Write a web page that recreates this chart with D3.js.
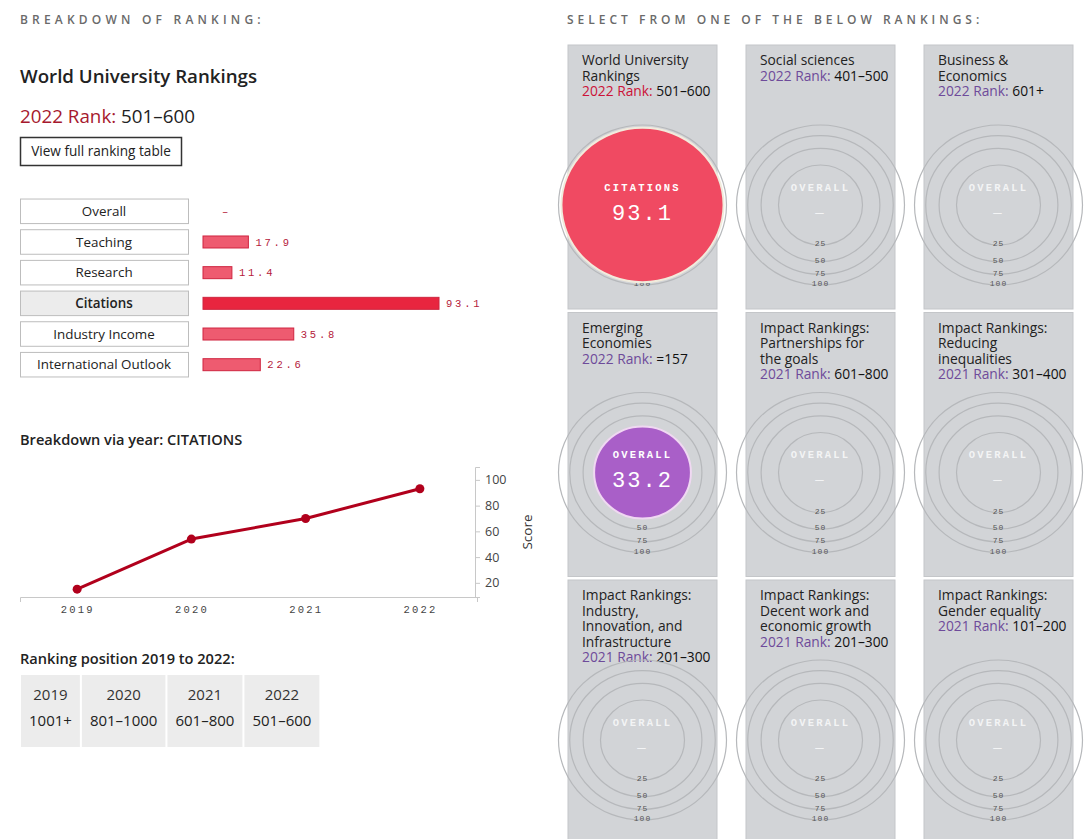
<!DOCTYPE html>
<meta charset="utf-8">
<style>
body { margin: 0; background: #fff; }
svg { display: block; font-family: "Open Sans", sans-serif; }
.mono { font-family: "Liberation Mono", "DejaVu Sans Mono", monospace; }
.axis path, .axis line { stroke: #c8c8c8; }
.axis text { fill: #444; }
</style>
<svg width="1086" height="839"></svg>
<script src="https://cdn.jsdelivr.net/npm/d3@7"></script>
<script>

// ---- data ----
var breakdownCats = ["Overall", "Teaching", "Research", "Citations", "Industry Income", "International Outlook"];
var breakdownVals = [null, 17.9, 11.4, 93.1, 35.8, 22.6];
var selectedCat = "Citations";

var years = [2019, 2020, 2021, 2022];
var citationScores = [15.1, 54.0, 70.0, 93.1];
var scoreTicks = [20, 40, 60, 80, 100];
var yearRanks = ["1001+", "801\u20131000", "601\u2013800", "501\u2013600"];

var cardTitles = [
  ["World University", "Rankings"],
  ["Social sciences"],
  ["Business &", "Economics"],
  ["Emerging", "Economies"],
  ["Impact Rankings:", "Partnerships for", "the goals"],
  ["Impact Rankings:", "Reducing", "inequalities"],
  ["Impact Rankings:", "Industry,", "Innovation, and", "Infrastructure"],
  ["Impact Rankings:", "Decent work and", "economic growth"],
  ["Impact Rankings:", "Gender equality"]
];
var cardRankYears = [2022, 2022, 2022, 2022, 2021, 2021, 2021, 2021, 2021];
var cardRanks = ["501\u2013600", "401\u2013500", "601+", "=157", "601\u2013800", "301\u2013400", "201\u2013300", "201\u2013300", "101\u2013200"];
var cardMetrics = ["CITATIONS", "OVERALL", "OVERALL", "OVERALL", "OVERALL", "OVERALL", "OVERALL", "OVERALL", "OVERALL"];
var cardScores = [93.1, null, null, 33.2, null, null, null, null, null];
var ringLevels = [25, 50, 75, 100];

var red = "#cc1238", purple = "#6e4b9a";

var svg = d3.select("svg");

// ---- left column ----
svg.append("text")
    .attr("x", 20).attr("y", 20).attr("dy", "0.35em")
    .attr("font-size", 12).attr("font-weight", 600)
    .attr("letter-spacing", 4.2).attr("fill", "#6a6a6a")
    .text("BREAKDOWN OF RANKING:");

svg.append("text")
    .attr("x", 20).attr("y", 76).attr("dy", "0.35em")
    .attr("font-size", 18.7).attr("font-weight", 600).attr("fill", "#222")
    .text("World University Rankings");

var rk = svg.append("text")
    .attr("x", 20).attr("y", 116).attr("dy", "0.35em")
    .attr("font-size", 18.8);
rk.append("tspan").attr("fill", "#a6192e").text("2022 Rank: ");
rk.append("tspan").attr("fill", "#222").attr("font-weight", 500).text("501\u2013600");

svg.append("rect")
    .attr("x", 20.5).attr("y", 137.5).attr("width", 161).attr("height", 28)
    .attr("fill", "#fff").attr("stroke", "#333").attr("stroke-width", 1.5);
svg.append("text")
    .attr("x", 101).attr("y", 151.5).attr("dy", "0.35em")
    .attr("text-anchor", "middle").attr("font-size", 13.6).attr("font-weight", 500)
    .attr("fill", "#222")
    .text("View full ranking table");

// breakdown bars
var rowY = d3.scaleBand().domain(breakdownCats).range([197, 378]).paddingInner(0.2).paddingOuter(0.05);
var barX = d3.scaleLinear().domain([0, 100]).range([203, 456.5]);

var rows = svg.append("g").selectAll("g")
  .data(breakdownCats)
  .enter().append("g");

rows.append("rect")
    .attr("x", 20.5).attr("width", 168)
    .attr("y", function(d) { return rowY(d) + 0.5; })
    .attr("height", rowY.bandwidth())
    .attr("fill", function(d) { return d === selectedCat ? "#ececec" : "#fff"; })
    .attr("stroke", "#bdbdbd");

rows.append("text")
    .attr("x", 104).attr("y", function(d) { return rowY(d) + rowY.bandwidth() / 2 + 0.5; })
    .attr("dy", "0.35em").attr("text-anchor", "middle")
    .attr("font-size", 13.4).attr("fill", "#222")
    .attr("font-weight", function(d) { return d === selectedCat ? 600 : 500; })
    .text(function(d) { return d; });

rows.append("rect")
    .filter(function(d, i) { return breakdownVals[i] != null; })
    .attr("x", barX(0))
    .attr("y", function(d) { return rowY(d) + rowY.bandwidth() / 2 - 5.5; })
    .attr("height", 12)
    .attr("width", function(d) { return barX(breakdownVals[breakdownCats.indexOf(d)]) - barX(0); })
    .attr("fill", function(d) { return d === selectedCat ? "#e8253f" : "#ee5b70"; })
    .attr("stroke", "#cf2540").attr("stroke-width", 1);

rows.append("text")
    .attr("class", "mono")
    .attr("x", function(d, i) { return breakdownVals[i] == null ? 222 : barX(breakdownVals[i]) + 7; })
    .attr("y", function(d) { return rowY(d) + rowY.bandwidth() / 2 + 0.5; })
    .attr("dy", "0.35em")
    .attr("font-size", 10.5).attr("letter-spacing", 2.8).attr("fill", "#b5203a")
    .text(function(d, i) { return breakdownVals[i] == null ? "\u2013" : breakdownVals[i].toFixed(1); });

// line chart
svg.append("text")
    .attr("x", 20).attr("y", 440).attr("dy", "0.35em")
    .attr("font-size", 14.6).attr("font-weight", 600).attr("fill", "#222")
    .text("Breakdown via year: CITATIONS");

var x = d3.scaleLinear().domain([2018.5, 2022.5]).range([20, 477]);
var y = d3.scaleLinear().domain([9, 110]).range([597, 467]);

svg.append("g")
    .attr("class", "axis mono")
    .attr("transform", "translate(0,597)")
    .call(d3.axisBottom(x).tickValues(years).tickFormat(d3.format("d"))
      .tickSizeInner(0).tickSizeOuter(5).tickPadding(9))
    .call(function(g) {
      g.selectAll("text").attr("font-size", 10.5).attr("letter-spacing", 2.2)
        .attr("font-family", "Liberation Mono, monospace").attr("fill", "#333");
    });

svg.append("g")
    .attr("class", "axis")
    .attr("transform", "translate(475,0)")
    .call(d3.axisRight(y).tickValues(scoreTicks).tickSize(5).tickPadding(5))
    .call(function(g) {
      g.selectAll("text").attr("font-size", 12.5).attr("font-family", "Open Sans, sans-serif");
    });

svg.append("text")
    .attr("transform", "translate(527,532) rotate(-90)")
    .attr("dy", "0.35em").attr("text-anchor", "middle")
    .attr("font-size", 13.5).attr("fill", "#333")
    .text("Score");

var line = d3.line()
    .x(function(d, i) { return x(years[i]); })
    .y(function(d) { return y(d); });

svg.append("path")
    .datum(citationScores)
    .attr("d", line)
    .attr("fill", "none").attr("stroke", "#b1001c").attr("stroke-width", 3)
    .attr("stroke-linejoin", "round");

svg.append("g").selectAll("circle")
  .data(citationScores)
  .enter().append("circle")
    .attr("cx", function(d, i) { return x(years[i]); })
    .attr("cy", function(d) { return y(d); })
    .attr("r", 4.5)
    .attr("fill", "#b1001c");

// ranking position table
svg.append("text")
    .attr("x", 20).attr("y", 659).attr("dy", "0.35em")
    .attr("font-size", 14.6).attr("font-weight", 600).attr("fill", "#222")
    .text("Ranking position 2019 to 2022:");

var tbl = svg.append("g");
var cx0 = 21;
years.forEach(function(yr, i) {
  var cell = tbl.append("g");
  var bg = cell.append("rect").attr("y", 675).attr("height", 72).attr("fill", "#ececec");
  var t1 = cell.append("text").attr("y", 695).attr("dy", "0.35em")
      .attr("text-anchor", "middle").attr("font-size", 15).attr("fill", "#333").text(yr);
  var t2 = cell.append("text").attr("y", 721).attr("dy", "0.35em")
      .attr("text-anchor", "middle").attr("font-size", 15).attr("fill", "#222").text(yearRanks[i]);
  var w = Math.max(t1.node().getComputedTextLength(), t2.node().getComputedTextLength()) + 16;
  bg.attr("x", cx0).attr("width", w);
  t1.attr("x", cx0 + w / 2);
  t2.attr("x", cx0 + w / 2);
  cx0 += w + 2;
});

// ---- right column: ranking cards ----
svg.append("text")
    .attr("x", 567).attr("y", 20).attr("dy", "0.35em")
    .attr("font-size", 12).attr("font-weight", 600)
    .attr("letter-spacing", 4.0).attr("fill", "#6a6a6a")
    .text("SELECT FROM ONE OF THE BELOW RANKINGS:");

var r = d3.scaleSqrt().domain([0, 100]).range([0, 80]);
var stretch = 1.05;
var cardW = 149, cardH = 264;

var cards = svg.append("g").selectAll("g")
  .data(cardTitles)
  .enter().append("g")
    .attr("transform", function(d, i) {
      return "translate(" + (568 + (i % 3) * 178) + "," + (45 + Math.floor(i / 3) * 267.5) + ")";
    });

cards.append("rect")
    .attr("width", cardW).attr("height", cardH)
    .attr("fill", "#d2d4d7").attr("stroke", "#c4c6c9");

cards.each(function(lines, i) {
  var g = d3.select(this);
  var t = g.append("text").attr("font-size", 13.8).attr("fill", "#222");
  lines.forEach(function(l, j) {
    t.append("tspan").attr("x", 14).attr("y", 15.5 + j * 15.4).attr("dy", "0.35em").text(l);
  });
  var last = t.append("tspan").attr("x", 14).attr("y", 15.5 + lines.length * 15.4).attr("dy", "0.35em");
  last.append("tspan").attr("fill", i === 0 ? red : purple).text(cardRankYears[i] + " Rank: ");
  last.append("tspan").attr("fill", "#111").attr("font-weight", 500).text(cardRanks[i]);

  var ccx = cardW / 2, ccy = 160;

  g.selectAll("ellipse.ring")
    .data(ringLevels)
    .enter().append("ellipse")
      .attr("class", "ring")
      .attr("cx", ccx).attr("cy", ccy)
      .attr("rx", function(v) { return r(v) * stretch; })
      .attr("ry", function(v) { return r(v); })
      .attr("fill", "none").attr("stroke", "#b6b8bb").attr("stroke-width", 1.2);

  g.selectAll("text.ringlab")
    .data(ringLevels)
    .enter().append("text")
      .attr("class", "ringlab mono")
      .attr("x", ccx).attr("y", function(v) { return ccy + r(v) - 1.5; })
      .attr("dy", "0.35em").attr("text-anchor", "middle")
      .attr("font-size", 8).attr("letter-spacing", 1).attr("fill", "#555")
      .text(function(v) { return v; });

  var score = cardScores[i];
  if (score != null) {
    g.append("ellipse")
        .attr("cx", ccx).attr("cy", ccy)
        .attr("rx", r(score) * stretch).attr("ry", r(score))
        .attr("fill", i === 0 ? "#f04a62" : "#a95fc8")
        .attr("stroke", i === 0 ? "#f1ebdc" : "#f0d8f2").attr("stroke-width", 2);
  }

  g.append("text")
      .attr("class", "mono")
      .attr("x", ccx).attr("y", ccy - 18).attr("dy", "0.35em")
      .attr("text-anchor", "middle")
      .attr("font-size", 10.5).attr("font-weight", "bold").attr("letter-spacing", 2.2)
      .attr("fill", "#fff").attr("fill-opacity", score != null ? 1 : 0.75)
      .text(cardMetrics[i]);

  g.append("text")
      .attr("class", "mono")
      .attr("x", ccx).attr("y", ccy + 7).attr("dy", "0.35em")
      .attr("text-anchor", "middle")
      .attr("font-size", score != null ? 22 : 14).attr("letter-spacing", 2)
      .attr("fill", "#fff").attr("fill-opacity", score != null ? 1 : 0.75)
      .text(score != null ? score.toFixed(1) : "\u2014");
});

</script>
